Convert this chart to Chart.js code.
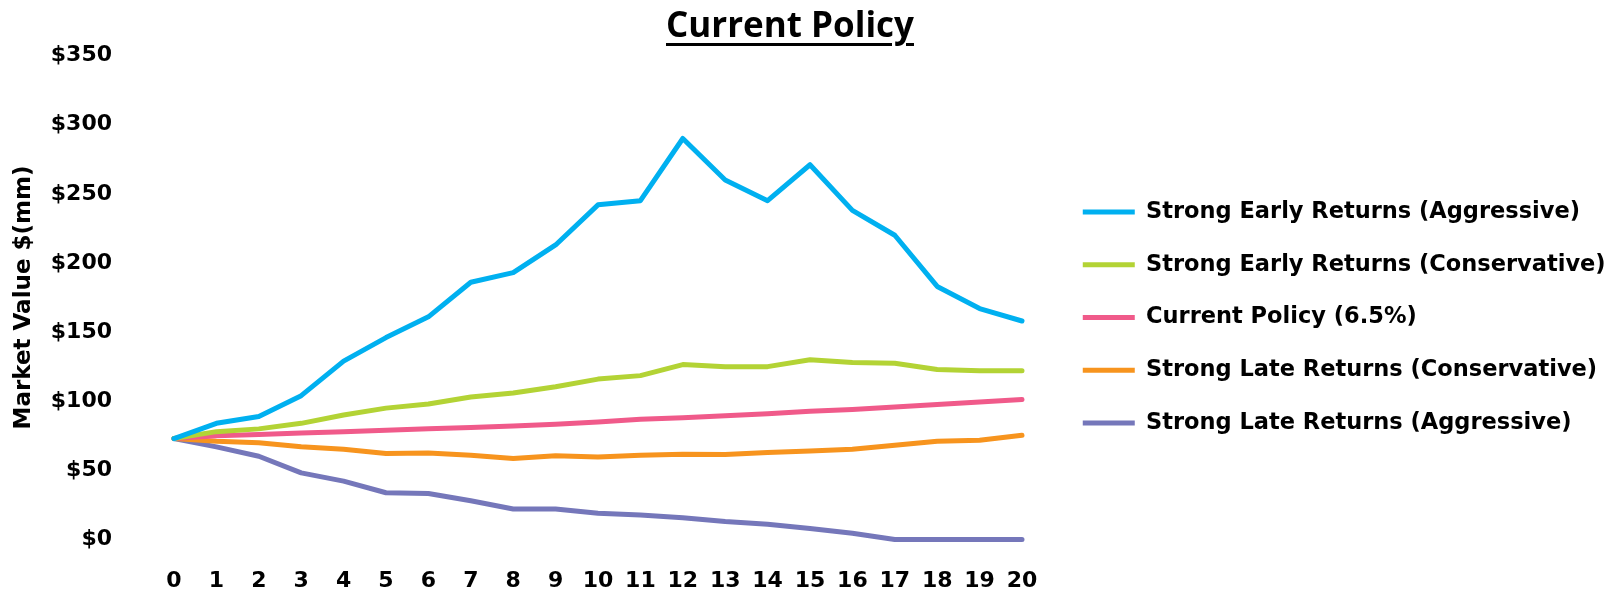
<!DOCTYPE html>
<html>
<head>
<meta charset="utf-8">
<script src="https://cdn.jsdelivr.net/npm/chart.js@4.4.1/dist/chart.umd.min.js"></script>
<style>
    html, body { margin: 0; padding: 0; background: #fff; }
    #wrap { position: relative; width: 1622px; height: 594px; }
    #title {
        position: absolute; left: 0; top: 4px; width: 1580px; line-height: 40px;
        text-align: center; font-family: "Open Sans", sans-serif; font-weight: bold; font-size: 35px; color: #000;
        text-decoration: underline; text-decoration-thickness: 3px; text-underline-offset: 6px;
    }
</style>
</head>
<body>
<div id="wrap">
    <canvas id="policyChart" width="1622" height="594"></canvas>
    <div id="title">Current Policy</div>
</div>
<script>
const years = ['0','1','2','3','4','5','6','7','8','9','10','11','12','13','14','15','16','17','18','19','20'];

const earlyAggressive = [73, 84, 89, 104, 129, 146, 161, 186, 193, 213, 242, 245, 290, 260, 245, 271, 238, 220, 183, 167, 158];
const earlyConservative = [73, 78, 80, 84, 90, 95, 98, 103, 106, 110.5, 116, 118.5, 126.5, 125, 125, 130, 128, 127.5, 123, 122, 122];
const currentPolicy = [73, 75, 76, 77, 78, 79, 80, 81, 82, 83.3, 85, 87, 88, 89.5, 91, 92.7, 94, 95.8, 97.7, 99.4, 101.3];
const lateConservative = [73, 71, 70, 67, 65.3, 62.2, 62.6, 61, 58.6, 60.5, 59.7, 61, 61.7, 61.5, 63, 64, 65.3, 68.2, 71, 71.8, 75.4];
const lateAggressive = [73, 67, 60.2, 48.2, 42.2, 33.8, 33.3, 28, 22, 22, 19, 17.7, 15.8, 13, 11, 8, 4.5, 0, 0, 0, 0];

const yTicks = [0, 50, 100, 150, 200, 250, 300, 350];

const FONT = '"DejaVu Sans", sans-serif';
const PLOT_LEFT = 174;   // x = 0 sits here
const PLOT_RIGHT = 1022; // x = 20 sits here
const PAD_LEFT = 6;
const PAD_RIGHT = 6.4;

const line = (label, data, color) => ({
    label,
    data,
    borderColor: color,
    backgroundColor: color,
    borderWidth: 5,
    borderCapStyle: 'round',
    borderJoinStyle: 'round',
    pointRadius: 0,
    tension: 0,
    fill: false,
    clip: false
});

new Chart(document.getElementById('policyChart'), {
    type: 'line',
    data: {
        labels: years,
        datasets: [
            line('Strong Early Returns (Aggressive)', earlyAggressive, '#00B0F0'),
            line('Strong Early Returns (Conservative)', earlyConservative, '#B3D335'),
            line('Current Policy (6.5%)', currentPolicy, '#F05A8A'),
            line('Strong Late Returns (Conservative)', lateConservative, '#F7941E'),
            line('Strong Late Returns (Aggressive)', lateAggressive, '#7577BA')
        ]
    },
    options: {
        responsive: false,
        animation: false,
        layout: { padding: { left: PAD_LEFT, right: PAD_RIGHT, top: 41, bottom: 0 } },
        plugins: {
            legend: {
                position: 'right',
                align: 'center',
                maxWidth: 800,
                labels: {
                    usePointStyle: true,
                    pointStyle: 'line',
                    pointStyleWidth: 52,
                    padding: 30.2,
                    color: '#000',
                    font: { family: FONT, size: 22.5, weight: 'bold' }
                }
            },
            tooltip: { enabled: false }
        },
        scales: {
            x: {
                offset: false,
                grid: { display: false, drawTicks: true, tickLength: 22 },
                border: { display: false },
                ticks: {
                    padding: 6.5,
                    color: '#000',
                    maxRotation: 0,
                    autoSkip: false,
                    font: { family: FONT, size: 22, weight: 'bold' }
                },
                afterFit: s => { s.height = 54.5; }
            },
            // empty top axis, only to push the plot down without moving the legend
            xPad: {
                type: 'category',
                position: 'top',
                grid: { display: false, drawTicks: false },
                border: { display: false },
                ticks: { display: false },
                afterFit: s => { s.height = 14.5; }
            },
            y: {
                min: 0,
                max: 350,
                grid: { display: false, drawTicks: true, tickLength: 56 },
                border: { display: false },
                afterBuildTicks: s => { s.ticks = yTicks.map(v => ({ value: v })); },
                ticks: {
                    padding: 6,
                    color: '#000',
                    font: { family: FONT, size: 22, weight: 'bold' },
                    callback: v => '$' + v
                },
                title: {
                    display: true,
                    text: 'Market Value $(mm)',
                    color: '#000',
                    font: { family: FONT, size: 23, weight: 'bold' }
                },
                afterFit: s => { s.width = PLOT_LEFT - PAD_LEFT; }
            },
            // empty right axis: gap between plot and legend
            yPad: {
                type: 'linear',
                position: 'right',
                grid: { display: false, drawTicks: false },
                border: { display: false },
                ticks: { display: false },
                afterFit: s => {
                    const lg = s.chart.legend;
                    s.width = Math.max(0, s.chart.width - PAD_RIGHT - (lg ? lg.width : 0) - PLOT_RIGHT);
                }
            }
        }
    }
});
</script>
</body>
</html>
